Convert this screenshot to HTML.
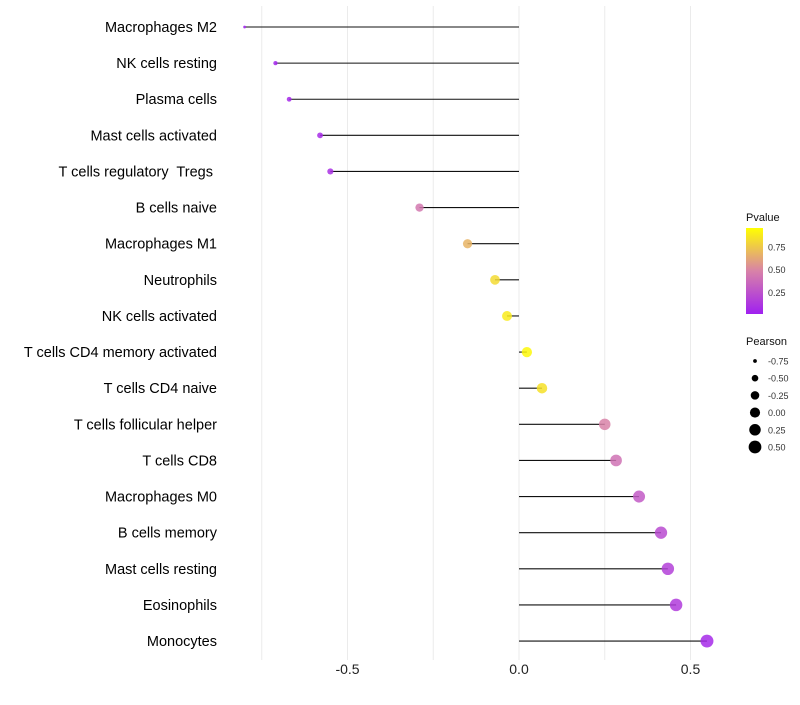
<!DOCTYPE html>
<html><head><meta charset="utf-8"><style>
body{margin:0;background:#fff;font-family:"Liberation Sans",sans-serif}
text{white-space:pre}
</style></head><body>
<svg id="c" width="800" height="700" xmlns="http://www.w3.org/2000/svg">
<defs><linearGradient id="g" x1="0" y1="1" x2="0" y2="0">
<stop offset="0" stop-color="#a020f0"/><stop offset="0.5" stop-color="#d882a8"/><stop offset="1" stop-color="#ffff00"/>
</linearGradient></defs>
</svg>
<script>
const categories=["Macrophages M2","NK cells resting","Plasma cells","Mast cells activated","T cells regulatory  Tregs ","B cells naive","Macrophages M1","Neutrophils","NK cells activated","T cells CD4 memory activated","T cells CD4 naive","T cells follicular helper","T cells CD8","Macrophages M0","B cells memory","Mast cells resting","Eosinophils","Monocytes"];
const pearson=[-0.80,-0.71,-0.67,-0.58,-0.55,-0.29,-0.15,-0.07,-0.035,0.023,0.067,0.25,0.283,0.35,0.414,0.434,0.458,0.548];
const pvalue=[0.01,0.03,0.04,0.06,0.08,0.45,0.7,0.85,0.92,0.97,0.88,0.5,0.42,0.3,0.22,0.17,0.14,0.05];
const xTicks=[-0.5,0,0.5];
const pTicks=[0.25,0.5,0.75];
const sizeTicks=[-0.75,-0.5,-0.25,0,0.25,0.5];
const NS="http://www.w3.org/2000/svg",svg=document.getElementById('c');
const x=v=>519+v*343, y=i=>27+i*36.12;
const py=p=>315-p*91;
const rad=v=>Math.sqrt(Math.max(1,2+(v+0.8)/1.35*40));
function col(p){const a=[160,32,240],m=[216,130,168],b=[255,255,0];let s,e,t;if(p<0.5){s=a;e=m;t=p/0.5}else{s=m;e=b;t=(p-0.5)/0.5}return `rgb(${s.map((c,i)=>Math.round(c+(e[i]-c)*t)).join(',')})`;}
function mk(t,at){const e=document.createElementNS(NS,t);for(const k in at)e.setAttribute(k,at[k]);svg.appendChild(e);return e;}
[-0.75,-0.5,-0.25,0,0.25,0.5].forEach(v=>{const l=mk('line',{x1:x(v),x2:x(v),y1:6,y2:660,stroke:'#ebebeb','stroke-width':1});

});
xTicks.forEach(v=>{const t=mk('text',{x:x(v),y:674,'text-anchor':'middle','font-size':14,fill:'#222'});t.textContent=v===0?'0.0':v.toFixed(1);

});
categories.forEach((c,i)=>{
const t=mk('text',{x:217,y:y(i)+5,'text-anchor':'end','font-size':14.5,fill:'#000'});t.textContent=c;


const l=mk('line',{x1:x(0),x2:x(pearson[i]),y1:y(i),y2:y(i),stroke:'#111','stroke-width':1.1});


const d=mk('circle',{cx:x(pearson[i]),cy:y(i),r:rad(pearson[i]),fill:col(pvalue[i]),'fill-opacity':0.85});


});
let t=mk('text',{x:746,y:221,'font-size':11,fill:'#111'});t.textContent='Pvalue';


let r=mk('rect',{x:746,y:228,width:17,height:86,fill:'url(#g)'});


pTicks.forEach(p=>{const tt=mk('text',{x:768,y:py(p)+3.5,'font-size':9,fill:'#333'});tt.textContent=p.toFixed(2);

});
t=mk('text',{x:746,y:345,'font-size':11,fill:'#111'});t.textContent='Pearson';


sizeTicks.forEach((v,i)=>{const cy=361+i*17.2;const c=mk('circle',{cx:755,cy:cy,r:rad(v),fill:'#000'});


const tt=mk('text',{x:768,y:cy+3.5,'font-size':9,fill:'#333'});tt.textContent=v.toFixed(2);

});
</script>
</body></html>
